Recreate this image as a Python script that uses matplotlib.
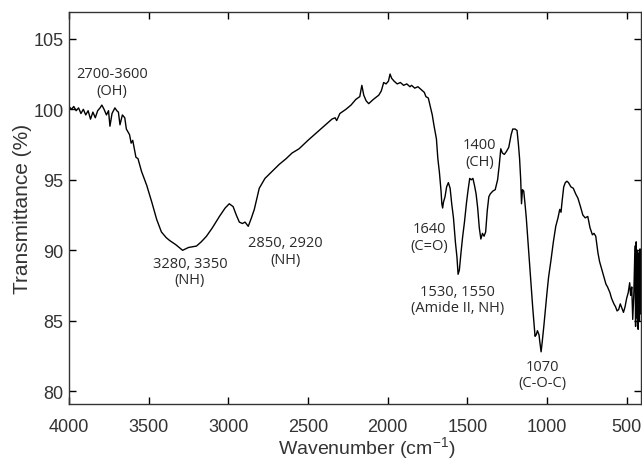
import matplotlib
matplotlib.use('Agg')
import matplotlib.pyplot as plt
import numpy as np

# FTIR spectrum
wavenumber = [
    4000, 3985, 3970, 3955, 3940, 3925, 3910, 3895, 3880, 3865, 3850, 3835, 3820,
    3805, 3794, 3780, 3765, 3752, 3743, 3730, 3712, 3700, 3690, 3680, 3665, 3650,
    3640, 3630, 3620, 3610, 3600, 3590, 3580, 3567, 3545, 3512, 3480, 3450, 3420,
    3390, 3369, 3330, 3287, 3250, 3200, 3170, 3137, 3100, 3056, 3020, 2994, 2970,
    2950, 2931, 2912, 2895, 2875, 2855, 2837, 2806, 2770, 2725, 2680, 2637, 2600,
    2556, 2500, 2450, 2400, 2350, 2330, 2320, 2300, 2262, 2230, 2200, 2175, 2162,
    2150, 2135, 2119, 2090, 2056, 2040, 2025, 2010, 1995, 1985, 1975, 1960, 1940,
    1920, 1900, 1880, 1860, 1850, 1830, 1810, 1790, 1770, 1760, 1745, 1730, 1720,
    1710, 1700, 1694, 1685, 1675, 1665, 1660, 1655, 1650, 1640, 1630, 1619, 1608,
    1598, 1587, 1575, 1565, 1558, 1550, 1540, 1530, 1518, 1505, 1495, 1485, 1475,
    1465, 1455, 1445, 1435, 1425, 1415, 1405, 1395, 1385, 1375, 1365, 1356, 1340,
    1325, 1310, 1300, 1290, 1280, 1268, 1255, 1240, 1225, 1215, 1200, 1188, 1180,
    1172, 1165, 1160, 1154, 1146, 1138, 1130, 1120, 1110, 1100, 1090, 1080, 1075,
    1068, 1060, 1050, 1045, 1037, 1030, 1020, 1010, 1000, 990, 975, 960, 945, 931,
    920, 912, 905, 895, 885, 875, 865, 850, 835, 820, 806, 790, 775, 760, 744, 730,
    715, 705, 694, 680, 670, 660, 645, 630, 620, 605, 595, 580, 570, 560, 550, 540,
    530, 520, 510, 500, 490, 481, 475, 468, 462, 455, 448, 444, 440, 436, 432, 428,
    424, 420, 416, 412,
]
transmittance = [
    100.2, 100.0, 100.2, 99.9, 100.1, 99.7, 100.0, 99.6, 99.9, 99.3, 99.8, 99.4, 99.9,
    100.1, 100.3, 100.0, 99.6, 99.9, 98.8, 99.7, 100.1, 99.9, 99.8, 98.9, 99.6, 99.4,
    98.6, 98.4, 98.2, 97.6, 97.8, 97.2, 96.6, 96.5, 95.6, 94.6, 93.4, 92.2, 91.3,
    90.9, 90.7, 90.4, 90.0, 90.2, 90.3, 90.6, 91.0, 91.6, 92.4, 93.0, 93.3, 93.1,
    92.5, 92.0, 91.9, 92.0, 91.7, 92.3, 92.9, 94.4, 95.1, 95.6, 96.1, 96.5, 96.9,
    97.2, 97.8, 98.3, 98.8, 99.3, 99.4, 99.2, 99.7, 100.0, 100.3, 100.7, 100.9, 101.7,
    101.0, 100.6, 100.4, 100.7, 101.0, 101.3, 101.9, 101.8, 102.0, 102.5, 102.2, 102.0, 101.8,
    101.9, 101.7, 101.8, 101.6, 101.7, 101.5, 101.6, 101.4, 101.2, 100.9, 100.8, 100.1, 99.6,
    98.9, 98.3, 97.9, 96.5, 95.5, 94.2, 93.3, 93.0, 93.4, 93.8, 94.5, 94.8, 94.4,
    93.3, 92.3, 90.6, 89.5, 88.3, 88.6, 89.8, 90.9, 92.0, 93.4, 94.3, 95.1, 95.0,
    95.1, 94.6, 94.0, 93.0, 91.6, 90.8, 91.2, 91.0, 91.3, 92.8, 93.8, 94.0, 94.2,
    94.3, 95.0, 96.0, 97.2, 96.9, 96.8, 97.0, 97.3, 98.2, 98.6, 98.6, 98.5, 97.6,
    96.5, 95.0, 93.3, 94.3, 94.2, 93.3, 92.3, 90.7, 89.0, 87.6, 86.0, 84.6, 83.9,
    84.0, 84.3, 84.0, 83.5, 82.8, 83.5, 84.6, 85.8, 87.0, 88.1, 89.3, 90.6, 91.7, 92.3,
    92.9, 92.7, 93.5, 94.5, 94.8, 94.9, 94.8, 94.5, 94.4, 94.0, 93.7, 93.1, 92.5, 92.3, 92.4, 91.6,
    91.1, 91.2, 91.0, 89.8, 89.2, 88.8, 88.2, 87.6, 87.4, 87.0, 86.6, 86.2, 86.0, 85.7, 85.8, 86.2,
    85.9, 85.6, 86.0, 86.6, 87.0, 87.7, 86.8, 87.4, 85.1, 86.9, 90.3, 84.6, 90.6, 85.2, 90.0, 84.4,
    89.8, 85.0, 90.1, 85.5,
]

# peak labels: text, x, y (data units)
peak_labels = ['2700-3600\n(OH)', '3280, 3350\n(NH)', '2850, 2920\n(NH)',
               '1640\n(C=O)', '1400\n(CH)', '1530, 1550\n(Amide II, NH)',
               '1070\n(C-O-C)']
label_x = [3730, 3241, 2640, 1736, 1423, 1561, 1028]
label_y = [101.95, 88.5, 89.95, 90.95, 96.9, 86.5, 81.2]

plt.rcParams['mathtext.fontset'] = 'custom'
plt.rcParams['mathtext.rm'] = 'Liberation Sans'
plt.rcParams['mathtext.it'] = 'Liberation Sans'

fig = plt.figure(figsize=(6.42, 4.60), dpi=100)
ax = fig.add_axes([69 / 642, 1 - 405 / 460, 572 / 642, 392 / 460])

ax.plot(wavenumber, transmittance, color='black', lw=1.0)

for txt, x, y in zip(peak_labels, label_x, label_y):
    ax.text(x, y, txt, ha='center', va='center', fontsize=10.5,
            family='Open Sans', color='#2a2a2a', linespacing=1.15)

ax.set_xlim(4000, 410)
ax.set_ylim(79.1, 106.9)
ax.set_xticks([4000, 3500, 3000, 2500, 2000, 1500, 1000, 500])
ax.set_yticks([80, 85, 90, 95, 100, 105])
ax.tick_params(direction='in', top=True, right=True, length=5, width=1,
               labelsize=13)
ax.tick_params(axis='x', pad=10)
ax.tick_params(axis='y', pad=4)
for lab in ax.get_xticklabels() + ax.get_yticklabels():
    lab.set_family('Liberation Sans')
    lab.set_color('#333333')
for s in ax.spines.values():
    s.set_linewidth(1.0)
    s.set_color('#333333')

ax.set_xlabel('Wavenumber (cm$^{-1}$)', fontsize=14, family='Liberation Sans',
              color='#333333')
ax.xaxis.label.set_va('baseline')
ax.xaxis.set_label_coords(0.52, -0.125)
ax.set_ylabel('Transmittance (%)', fontsize=15, family='Liberation Sans',
              color='#333333')
ax.yaxis.set_label_coords(-0.065, 0.5)

fig.savefig('out.png', dpi=100)
